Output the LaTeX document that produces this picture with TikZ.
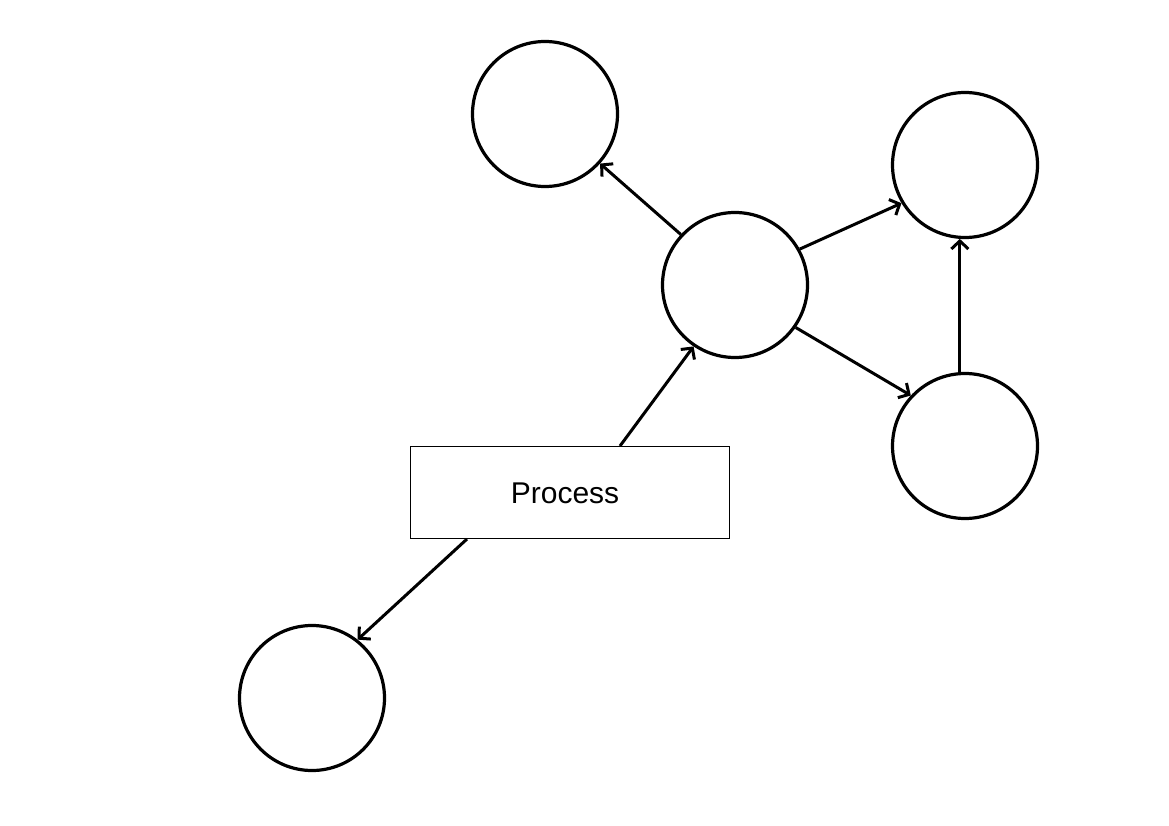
\documentclass[tikz,border=0pt]{standalone}
\usepackage{fontspec}
\setmainfont{Liberation Sans}
\usetikzlibrary{arrows.meta}

\begin{document}
\begin{tikzpicture}[x=1pt,y=-1pt,
		state/.style={draw=black,fill=white,circle,line width=3.2pt,minimum size=145pt,inner sep=0pt},
		procbox/.style={draw=black,fill=white,rectangle,line width=1pt,minimum width=319pt,minimum height=92pt},
		link/.style={black,line width=3pt,-{Straight Barb[length=8pt,width=17pt]}}]
		\useasboundingbox (0,0) rectangle (1169,826);
		
		% Circles
		\node[state] (top) at (545,114) {};
		\node[state] (hub) at (735,285) {};
		\node[state] (upper) at (965,165) {};
		\node[state] (lower) at (965,446) {};
		\node[state] (sink) at (312,698) {};
		
		%% Process box
		\node[procbox] (process) at (570,492.5) {};
		\node[font=\fontsize{30}{36}\selectfont] (label) at (565,493) {Process};
		
		%% Arrows
		\draw[link] (hub.137) -- (top.-42);
		\draw[link] (hub.29) -- (upper.211);
		\draw[link] (hub.-35) -- (lower.137);
		\draw[link] (lower.94) -- (upper.266);
		\draw[link] ([xshift=50pt]process.north) -- (hub.236);
		\draw[link] ([xshift=-103pt]process.south) -- (sink.52);
	\end{tikzpicture}
\end{document}
